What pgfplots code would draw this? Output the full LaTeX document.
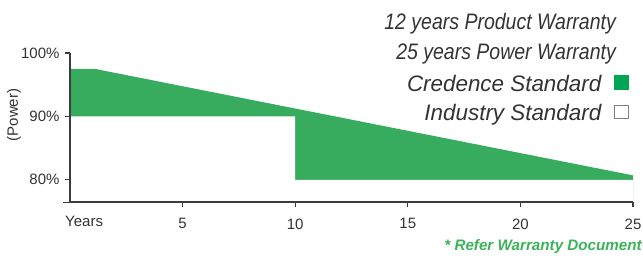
\documentclass[border=0pt]{standalone}
\usepackage{fontspec}
\setmainfont{Liberation Sans}
\usepackage{pgfplots}
\pgfplotsset{compat=1.18}
\definecolor{areagreen}{RGB}{56,172,94}
\definecolor{boxgreen}{RGB}{0,166,81}
\definecolor{txtgreen}{RGB}{60,178,90}
\definecolor{txtgray}{RGB}{51,51,51}
\definecolor{axgray}{RGB}{60,60,60}
\begin{document}
\begin{tikzpicture}
\begin{axis}[
  at={(0pt,0pt)}, anchor=south west,
  scale only axis, width=563pt, height=149pt,
  xmin=0, xmax=25, ymin=76.5, ymax=100,
  axis x line*=bottom, axis y line*=left,
  axis line style={-, draw=axgray, line width=1.8pt},
  xtick={5,10,15,20,25}, ytick={80,90,100},
  yticklabels={80\%,90\%,100\%},
  tick align=outside, major tick length=5pt,
  tick style={draw=axgray, line width=1.3pt},
  /pgf/number format/assume math mode=true,
  ticklabel style={font=\fontsize{15}{18}\selectfont, text=txtgray},
  yticklabel style={xshift=-2pt},
  xticklabel style={anchor=north, yshift=-8pt},
  axis on top,
]
\addplot[fill=areagreen, draw=none] coordinates {(0,76.5) (0,97.5) (1.1,97.5) (25,80.7) (25,76.5)} -- cycle;
\addplot[fill=white, draw=none] coordinates {(0,76.5) (0,90) (10,90) (10,80) (25,80) (25,76.5)} -- cycle;
\end{axis}
\begin{scope}[x=1pt,y=1pt,shift={(-70pt,-53pt)}]
\draw[axgray, line width=1.8pt] (63,52.5) -- (70,52.5);
\node[anchor=north west, inner sep=0pt, font=\fontsize{15}{18}\selectfont, text=txtgray] at (65,39) {Years};
\node[rotate=90, inner sep=0pt, font=\fontsize{15}{18}\selectfont, text=txtgray] at (14,140) {(Power)};
\node[anchor=base east, inner sep=0pt, xscale=0.87, font=\fontsize{22.4}{26}\selectfont\itshape, text=txtgray] at (616,225.5) {12 years Product Warranty};
\node[anchor=base east, inner sep=0pt, xscale=0.87, font=\fontsize{22.4}{26}\selectfont\itshape, text=txtgray] at (616,195.5) {25 years Power Warranty};
\node[anchor=base east, inner sep=0pt, font=\fontsize{22.4}{26}\selectfont\itshape, text=txtgray] at (601.5,164) {Credence Standard};
\node[anchor=base east, inner sep=0pt, font=\fontsize{22.4}{26}\selectfont\itshape, text=txtgray] at (601.5,135) {Industry Standard};
\fill[boxgreen] (613.5,165) rectangle (629,180.5);
\draw[gray, line width=1pt] (614.5,136.5) rectangle (628,150);
\node[anchor=base east, inner sep=0pt, font=\fontsize{15.2}{18}\selectfont\bfseries\itshape, text=txtgreen] at (642,4.5) {* Refer Warranty Document};
\pgfresetboundingbox
\useasboundingbox (0,0) rectangle (643,255);
\end{scope}
\end{tikzpicture}
\end{document}
